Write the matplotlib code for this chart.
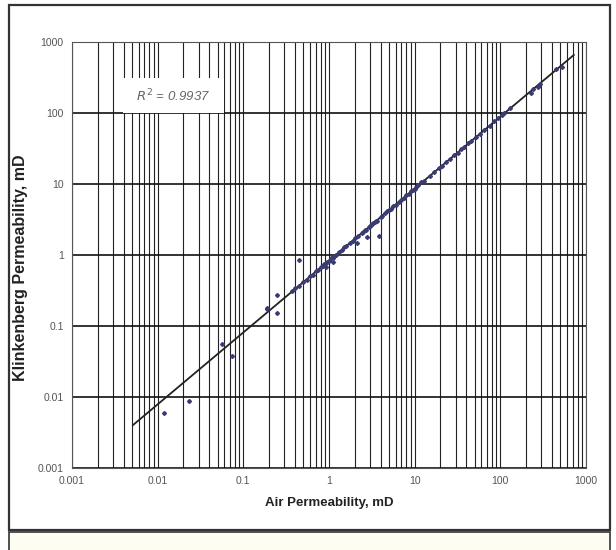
import matplotlib.pyplot as plt
import numpy as np
from matplotlib.patches import Rectangle
from matplotlib.ticker import LogLocator, NullFormatter, FixedLocator

plt.rcParams['font.family'] = ['Liberation Sans', 'DejaVu Sans']

# air permeability vs klinkenberg permeability, mD
air_k = [0.012, 0.023, 0.057, 0.074, 0.187, 0.19, 0.25, 0.25, 0.446, 0.92, 1.11,
         2.1, 2.8, 3.86,
         0.37, 0.40, 0.45, 0.50, 0.55, 0.60, 0.65, 0.70, 0.75, 0.80, 0.85, 0.88,
         0.92, 0.95, 1.0, 1.05, 1.1, 1.15, 1.2, 1.3, 1.4, 1.5, 1.6, 1.75, 1.9,
         2.0, 2.2, 2.4, 2.5, 2.6, 2.7, 2.9, 3.0, 3.1, 3.2, 3.3, 3.4, 3.5, 3.6,
         4.0, 4.2, 4.5, 4.8, 5.0, 5.3, 5.6, 6.0, 6.5, 7.0, 7.5, 8.0, 8.5, 9.0,
         9.5, 10, 10.5, 11, 12, 13, 15, 17, 19, 21, 23, 26, 29, 32, 35, 38, 42,
         46, 52, 58, 65, 75, 85, 95, 104, 110, 130, 225, 240, 276, 290, 445, 518]
klink_k = [0.0059, 0.0089, 0.055, 0.038, 0.172, 0.18, 0.27, 0.155, 0.85, 0.68, 0.80,
           1.46, 1.77, 1.85,
           0.31, 0.34, 0.37, 0.42, 0.45, 0.51, 0.53, 0.59, 0.62, 0.68, 0.70, 0.75,
           0.76, 0.81, 0.83, 0.90, 0.92, 0.98, 1.0, 1.11, 1.18, 1.28, 1.34, 1.49, 1.60,
           1.72, 1.86, 2.07, 2.10, 2.25, 2.28, 2.45, 2.58, 2.62, 2.78, 2.83, 2.88, 3.03, 3.05,
           3.48, 3.55, 3.85, 4.2, 4.3, 4.5, 4.9, 5.1, 5.65, 6.0, 6.4, 7.0, 7.2, 7.9,
           8.3, 8.6, 9.1, 9.6, 10.6, 11.2, 13.1, 14.6, 16.7, 18.1, 20.3, 22.5, 25.7, 27.8, 31, 33.1, 37.3,
           40.1, 46.2, 50.8, 58, 66, 76, 84, 95, 99, 116, 189, 220, 234, 255, 412, 449]

# power trend line end points
trend_x = [0.00515, 721]
trend_y = [0.00403, 657]
r2_text = '$R^2$ = 0.9937'

decades = [0.001, 0.01, 0.1, 1, 10, 100, 1000]
decade_labels = ['0.001', '0.01', '0.1', '1', '10', '100', '1000']

fig = plt.figure(figsize=(6.16, 5.5), dpi=100)

# outer frame + bottom strip
fig.add_artist(Rectangle((0.0146, 0.036), 0.976, 0.955, transform=fig.transFigure,
                         fill=False, ec='#333333', lw=1.6))
fig.add_artist(Rectangle((0.0146, -0.01), 0.976, 0.043, transform=fig.transFigure,
                         fc='#fefdf2', ec='#333333', lw=1.2))

ax = fig.add_axes([0.1169, 0.149, 0.8344, 0.7746])
ax.set_xscale('log')
ax.set_yscale('log')
ax.set_xlim(0.001, 1000)
ax.set_ylim(0.001, 1000)

ax.xaxis.set_major_locator(FixedLocator(decades))
ax.yaxis.set_major_locator(FixedLocator(decades))
ax.set_xticklabels(decade_labels)
ax.set_yticklabels(decade_labels)
ax.xaxis.set_minor_locator(LogLocator(base=10, subs=np.arange(2, 10), numticks=20))
ax.xaxis.set_minor_formatter(NullFormatter())
ax.yaxis.set_minor_locator(plt.NullLocator())

ax.tick_params(which='both', length=0, labelsize=7.5, labelcolor='#555555', pad=6)
ax.grid(True, axis='x', which='both', color='#222222', lw=0.8)
ax.grid(True, axis='y', which='major', color='#111111', lw=1.2)
ax.set_axisbelow(True)
for s in ax.spines.values():
    s.set_color('#555555')
    s.set_linewidth(0.8)

ax.plot(trend_x, trend_y, color='#222222', lw=1.3, zorder=3)
ax.plot(air_k, klink_k, linestyle='none', marker='D', markersize=2.0,
        color='#3a3b72', zorder=4)

ax.add_patch(Rectangle((0.099, 0.833), 0.197, 0.082, transform=ax.transAxes,
                       fc='white', ec='none', zorder=2.5))
ax.text(0.197, 0.873, r2_text, transform=ax.transAxes, ha='center', va='center',
        fontsize=9.5, style='italic', color='#666666', zorder=5)

ax.set_xlabel('Air Permeability, mD', fontsize=9.5, fontweight='bold', color='#222222', labelpad=8)
ax.set_ylabel('Klinkenberg Permeability, mD', fontsize=11.5, fontweight='bold', color='#222222', labelpad=5)
ax.yaxis.set_label_coords(-0.085, 0.47)

fig.savefig('out.png', dpi=100)
